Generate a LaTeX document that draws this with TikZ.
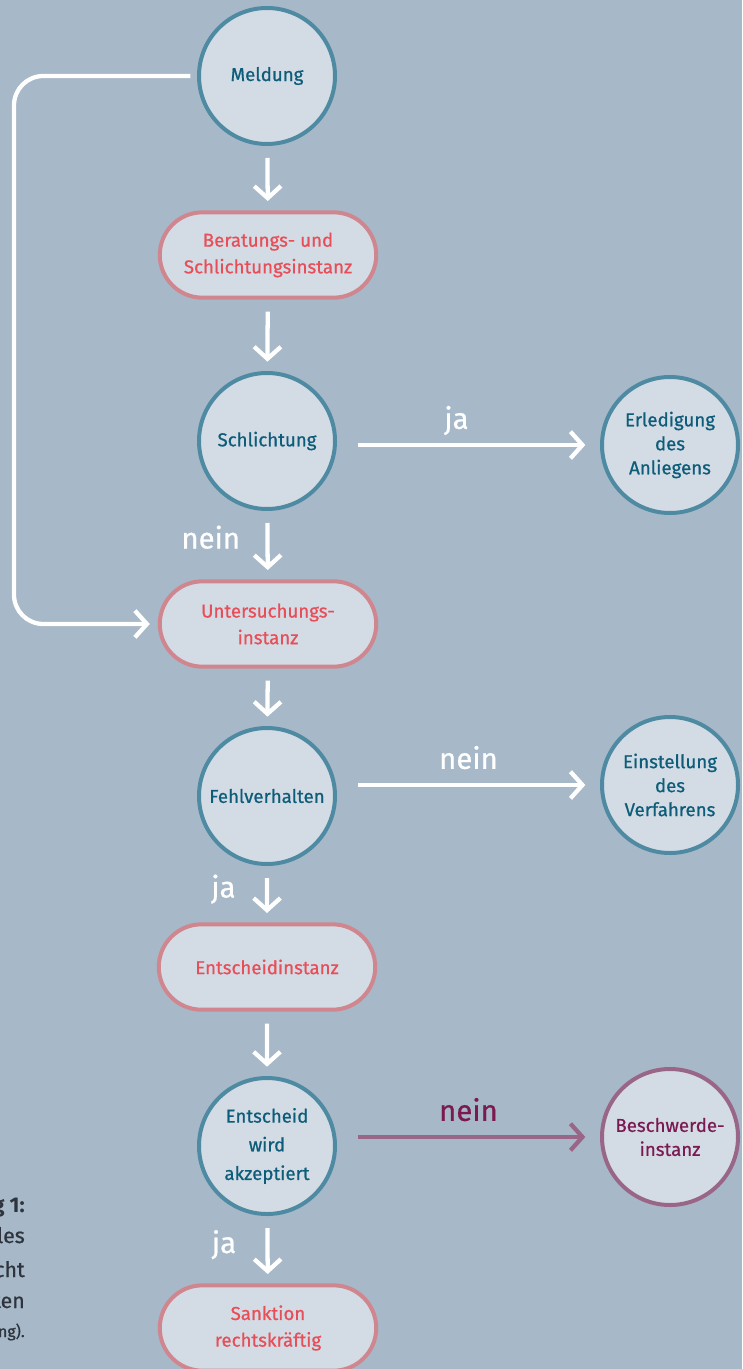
\documentclass[tikz,border=0pt]{standalone}
\usepackage{fontspec}
\setmainfont{Fira Sans}[UprightFeatures={FakeBold=0.7}]
\usetikzlibrary{arrows.meta,shapes.misc}
\definecolor{bgc}{HTML}{A7B8C8}
\definecolor{fillc}{HTML}{D3DCE5}
\definecolor{tealline}{HTML}{4F8AA3}
\definecolor{tealtext}{HTML}{0D5C79}
\definecolor{pinkline}{HTML}{D0868F}
\definecolor{redtext}{HTML}{E84E58}
\definecolor{purpline}{HTML}{9A6688}
\definecolor{purptext}{HTML}{7B1A52}
\definecolor{captc}{HTML}{2E343D}

\begin{document}
\begin{tikzpicture}[x=0.75pt,y=-0.75pt,align=center,
    circ/.style={circle, draw=tealline, fill=fillc, line width=3pt, minimum size=102pt,
      inner sep=0pt, text=tealtext, font=\fontsize{14}{18}\selectfont},
    pill/.style={rounded rectangle, draw=pinkline, fill=fillc, line width=3pt,
      minimum width=169pt, minimum height=64pt, text=redtext, font=\fontsize{14}{20}\selectfont},
    arr/.style={draw=white, line width=3.2pt, -{Straight Barb[length=9pt,width=20pt]}},
    lbl/.style={text=white, font=\fontsize{22}{22}\selectfont, inner sep=0pt,
      text height=0.75em, text depth=0.25em},
    capt/.style={text=captc, anchor=base east, inner sep=0pt}]
    \fill[bgc] (0,0) rectangle (742,1369);
    \useasboundingbox (0,0) rectangle (742,1369);

    \node[circ] at (267, 76) (meld) {Meldung};
    \node[pill] at (268, 255) (ber) {Beratungs- und\\Schlichtungsinstanz};
    \node[circ] at (267, 441) (schl) {Schlichtung};
    \node[circ] at (670, 445) (erl) {Erledigung\\des\\Anliegens};
    \node[pill] at (268, 624) (unt) {Untersuchungs-\\instanz};
    \node[circ] at (267, 796) (fehl) {Fehlverhalten};
    \node[circ] at (670, 785) (einst) {Einstellung\\des\\Verfahrens};
    \node[pill] at (267, 967) (entinst) {Entscheidinstanz};
    \node[circ, font=\fontsize{14}{21.5}\selectfont] at (267, 1146) (ent) {Entscheid\\wird\\akzeptiert};
    \node[circ, draw=purpline, text=purptext] at (670, 1137) (beschw) {Beschwerde-\\instanz};
    \node[pill] at (268, 1328) (sank) {Sanktion\\rechtskräftig};

    \draw[arr, shorten <=9pt, shorten >=7pt] (meld) -- (ber);
    \draw[arr, shorten <=9pt, shorten >=7pt] (ber) -- (schl);
    \draw[arr, shorten <=9pt, shorten >=7pt] (schl) -- node[lbl, left=19pt] {nein} (unt);
    \draw[arr, shorten <=9pt, shorten >=7pt] (unt) -- (fehl);
    \draw[arr, shorten <=9pt, shorten >=7pt] (fehl) -- node[lbl, left=22pt] {ja} (entinst);
    \draw[arr, shorten <=9pt, shorten >=7pt] (entinst) -- (ent);
    \draw[arr, shorten <=9pt, shorten >=7pt] (ent) -- node[lbl, left=22pt] {ja} (sank);

    \draw[arr, shorten <=16pt, shorten >=11pt]
    (erl.west -| schl.east) -- node[lbl, above=8pt, xshift=-9pt] {ja} (erl.west);
    \draw[arr, shorten <=16pt, shorten >=11pt]
    (einst.west -| fehl.east) -- node[lbl, above=8pt] {nein} (einst.west);
    \draw[arr, draw=purpline, shorten <=16pt, shorten >=11pt]
    (beschw.west -| ent.east) -- node[lbl, text=purptext, above=8pt] {nein} (beschw.west);

    \coordinate (rim) at (14, 350);
    \draw[arr, rounded corners=22pt, shorten <=5pt, shorten >=6pt]
    (meld.west) -| (rim) |- (unt.west);

    \node[capt, font=\fontsize{16}{16}\selectfont\bfseries] at (25, 1212) (c1) {g 1:};
    \node[capt, font=\fontsize{16}{16}\selectfont] at (25, 1243) (c2) {les};
    \node[capt, font=\fontsize{16}{16}\selectfont] at (25, 1277) (c3) {cht};
    \node[capt, font=\fontsize{16}{16}\selectfont] at (25, 1308) (c4) {ten};
    \node[capt, font=\fontsize{12}{12}\selectfont] at (25, 1337) (c5) {ng).};
\end{tikzpicture}
\end{document}
